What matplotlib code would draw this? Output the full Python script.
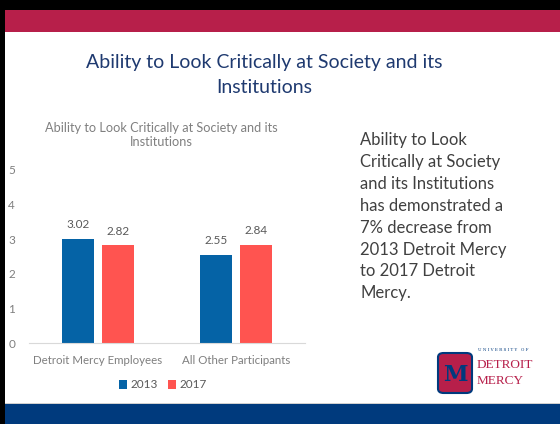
import matplotlib.pyplot as plt
from matplotlib.patches import Rectangle, FancyBboxPatch

# Chart data
categories = ["Detroit Mercy Employees", "All Other Participants"]
years = ["2013", "2017"]
values_2013 = [3.02, 2.55]
values_2017 = [2.82, 2.84]
yticks = [0, 1, 2, 3, 4, 5]

chart_title = "Ability to Look Critically at Society and its\nInstitutions"
slide_title = "Ability to Look Critically at Society and its\nInstitutions"
side_text = ["Ability to Look", "Critically at Society", "and its Institutions",
             "has demonstrated a", "7% decrease from", "2013 Detroit Mercy",
             "to 2017 Detroit", "Mercy."]

W, H = 560, 424
BLUE = "#0563A6"
RED = "#FF5450"
MAROON = "#B71F4A"
NAVY = "#003A7D"
TITLE_NAVY = "#1F3A70"
FONT = ["Lato", "DejaVu Sans"]

fig = plt.figure(figsize=(W / 100, H / 100), dpi=100)
fig.patch.set_facecolor("black")


def px(x, y, w, h):
    """pixel box (top-left origin) -> figure fraction rect"""
    return (x / W, 1 - (y + h) / H, w / W, h / H)


def frect(x, y, w, h, color, z=-10):
    l, b, ww, hh = px(x, y, w, h)
    fig.patches.append(Rectangle((l, b), ww, hh, transform=fig.transFigure,
                                 facecolor=color, edgecolor="none", zorder=z))


# slide background and bands
frect(5, 10, W - 5, H - 10, "white")
frect(5, 10, W - 5, 22, MAROON)
frect(5, 403, W - 5, 1, "#D0D0D0")
frect(5, 404, W - 5, 20, NAVY)

# slide title
fig.text(264 / W, 1 - 75 / H, slide_title, ha="center", va="center",
         fontsize=14, color=TITLE_NAVY, family=FONT, linespacing=1.55)

# side text
for i, line in enumerate(side_text):
    fig.text(360 / W, 1 - (140 + i * 21.9) / H, line, ha="left", va="center",
             fontsize=12, color="#404040", family=FONT)

# bar chart
ax = fig.add_axes(px(29, 170, 276, 173))
ax.set_facecolor("none")
xs = range(len(categories))
bw = 0.232
off = 0.145
b1 = ax.bar([x - off for x in xs], values_2013, bw, color=BLUE, label=years[0])
b2 = ax.bar([x + off for x in xs], values_2017, bw, color=RED, label=years[1])
for bars in (b1, b2):
    for r in bars:
        ax.annotate(f"{r.get_height():.2f}", (r.get_x() + r.get_width() / 2, r.get_height()),
                    xytext=(0, 6), textcoords="offset points", ha="center", va="bottom",
                    fontsize=8.5, color="#595959", family=FONT)
ax.set_xlim(-0.5, 1.5)
ax.set_ylim(0, 5)
ax.set_yticks(yticks)
ax.set_xticks(list(xs))
ax.set_xticklabels(categories)
ax.tick_params(length=0, labelsize=8.5, labelcolor="#7F7F7F", pad=10)
ax.tick_params(axis="x", pad=9, labelsize=8.3)
for lab in ax.get_xticklabels() + ax.get_yticklabels():
    lab.set_family(FONT)
for s in ("top", "right", "left"):
    ax.spines[s].set_visible(False)
ax.spines["bottom"].set_color("#D9D9D9")

fig.text(161 / W, 1 - 135 / H, chart_title, ha="center", va="center",
         fontsize=9.2, color="#808080", family=FONT, linespacing=1.1)

leg = fig.legend(handles=[b1, b2], labels=years, loc="center", bbox_to_anchor=(163 / W, 1 - 385 / H),
                 ncol=2, frameon=False, handlelength=0.7, handleheight=0.7,
                 columnspacing=0.8, handletextpad=0.3, prop={"family": FONT, "size": 8.5})
for t in leg.get_texts():
    t.set_color("#595959")

# logo: shield block with letter
lx, ly = 438, 353
l, b, ww, hh = px(lx, ly, 34, 40)
fig.patches.append(FancyBboxPatch((l, b), ww, hh, boxstyle="round,pad=0,rounding_size=0.01",
                                  transform=fig.transFigure, facecolor=MAROON,
                                  edgecolor=NAVY, linewidth=1.5, zorder=3))
fig.text((lx + 17) / W, 1 - (ly + 22) / H, "M", ha="center", va="center", fontsize=16,
         color=NAVY, family="DejaVu Serif", fontweight="bold", zorder=4)
fig.text(478 / W, 1 - 350 / H, "U N I V E R S I T Y   O F", ha="left", va="center",
         fontsize=3, color=NAVY, family="DejaVu Serif")
fig.text(477 / W, 1 - 365 / H, "DETROIT", ha="left", va="center",
         fontsize=9.5, color=MAROON, family="Liberation Serif")
fig.text(477 / W, 1 - 381 / H, "MERCY", ha="left", va="center",
         fontsize=9.5, color=MAROON, family="Liberation Serif")

fig.savefig("out.png", dpi=100, facecolor=fig.get_facecolor())
